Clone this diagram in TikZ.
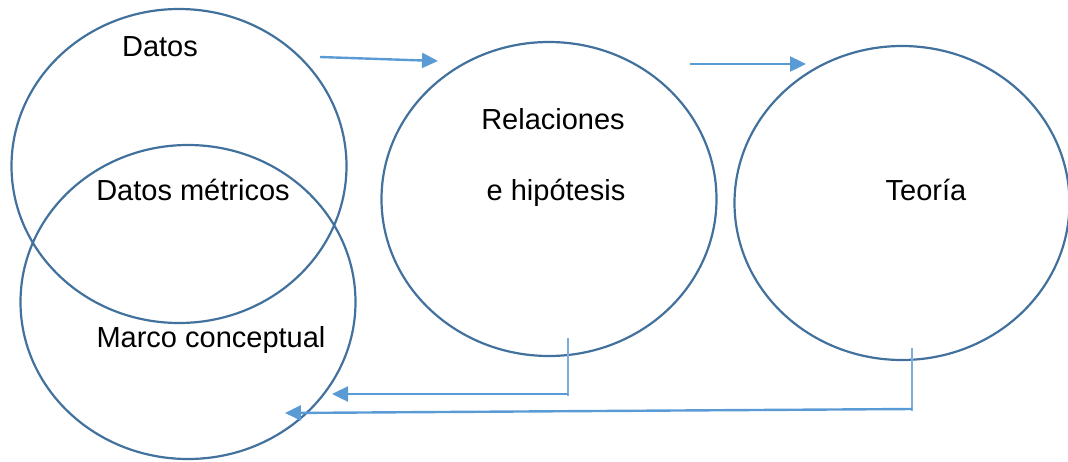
\documentclass[tikz,border=0pt]{standalone}
\usepackage{fontspec}
\setmainfont{Liberation Sans}
\usepackage{xcolor}
\definecolor{ringblue}{HTML}{41719C}
\definecolor{flowblue}{HTML}{5B9BD5}
\usepackage{tikz}
\usetikzlibrary{arrows.meta,positioning,shapes.geometric,calc}

\begin{document}
\begin{tikzpicture}[x=1pt,y=-1pt,
  ring/.style={draw=ringblue,line width=2.2pt,ellipse,minimum width=335pt,minimum height=314pt,inner sep=0pt},
  lbl/.style={anchor=base,font=\fontsize{29}{34}\selectfont},
  flow/.style={draw=flowblue,line width=2.4pt,-{Triangle[length=16pt,width=15pt]}},
  tick/.style={draw=flowblue!80,line width=1.4pt}]
\useasboundingbox (0,0) rectangle (1068,461);
% circles
\node[ring] (datos) at (179,166) {};
\node[ring] (marco) at (188,302) {};
\node[ring] (rel) at (549,199) {};
\node[ring] (teo) at (902,203) {};
% texts
\node[lbl] (tdatos) at (160,56) {Datos};
\node[lbl] (tmetr) at (193,200) {Datos métricos};
\node[lbl] (tmarco) at (211,347) {Marco conceptual};
\node[lbl] (trel) at (553,129) {Relaciones};
\node[lbl] (thip) at (556,200) {e hipótesis};
\node[lbl] (tteo) at (926,200) {Teoría};
% arrow ends
\coordinate (a1s) at (320,57);
\coordinate (a1e) at (438,61);
\coordinate (a2s) at (690,64);
\coordinate (a2e) at (806,64);
\coordinate (b1t) at (568,338);
\coordinate (b1s) at (568,394);
\coordinate (b1e) at (332,394);
\coordinate (b2t) at (912,348);
\coordinate (b2s) at (912,409);
\coordinate (b2e) at (285,413);
% connectors
\draw[flow] (a1s) -- (a1e);
\draw[flow] (a2s) -- (a2e);
\draw[tick] (b1t) -- ($(b1s)+(0,2)$);
\draw[flow] (b1s) -- (b1e);
\draw[tick] (b2t) -- ($(b2s)+(0,2)$);
\draw[flow] (b2s) -- (b2e);
\end{tikzpicture}
\end{document}
